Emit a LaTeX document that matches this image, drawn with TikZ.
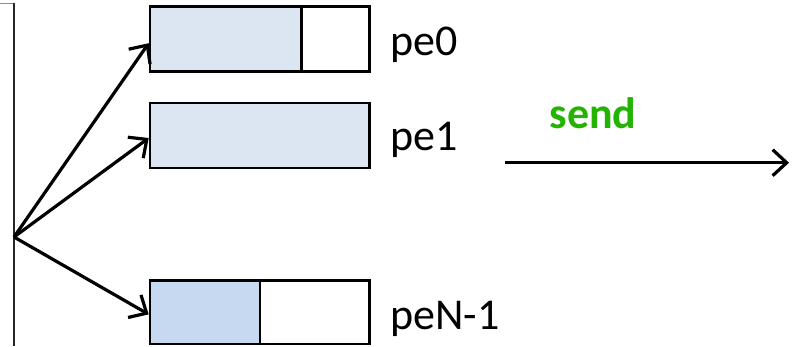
\documentclass[tikz,border=0pt]{standalone}
\usepackage{fontspec}
\setmainfont{Carlito}
\usetikzlibrary{arrows.meta}
\definecolor{lightfill}{RGB}{220,230,242}
\definecolor{midfill}{RGB}{198,217,241}
\definecolor{sendgreen}{RGB}{34,180,0}
\definecolor{edgegray}{RGB}{140,140,140}
\tikzset{
  cell/.style={draw=black, line width=2.6pt, inner sep=0pt, minimum height=65pt},
  conn/.style={line width=3.2pt, -{Straight Barb[length=14pt, width=26pt, line width=3.2pt]}},
  lbl/.style={anchor=base west, inner sep=0pt, font=\fontsize{44}{48}\selectfont},
}
\begin{document}
\begin{tikzpicture}[x=1pt, y=-1pt]
\useasboundingbox (0,0) rectangle (792,346);
% left frame
\draw[edgegray, line width=1.8pt] (0,3.5) -- (14,3.5);
\draw[black!85, line width=1.8pt] (14,3) -- (14,346);
% boxes
\node[cell, fill=lightfill, minimum width=151.7pt] (b0a) at (225.85,39.2) {};
\node[cell, fill=white, minimum width=67.6pt] (b0b) at (335.5,39.2) {};
\node[cell, fill=lightfill, minimum width=219.3pt] (b1) at (259.65,135.5) {};
\node[cell, fill=midfill, minimum width=110pt, minimum height=63.3pt] (bNa) at (205,312.35) {};
\node[cell, fill=white, minimum width=109.3pt, minimum height=63.3pt] (bNb) at (314.65,312.35) {};
% labels
\node[lbl] (l0) at (390,55) {pe0};
\node[lbl] (l1) at (390,150) {pe1};
\node[lbl] (lN) at (390,329.3) {peN-1};
% connectors
\coordinate (o) at (14,237);
\draw[conn] (o) -- ([yshift=-4pt]b0a.west);
\draw[conn] (o) -- ([yshift=-2.5pt]b1.west);
\draw[conn] (o) -- ([yshift=-2pt]bNa.west);
% send
\coordinate (s1) at (505,162.7);
\coordinate (s2) at (789,162.7);
\draw[conn] (s1) -- (s2);
\node[anchor=base, inner sep=0pt, text=sendgreen, font=\fontsize{44}{48}\selectfont\bfseries] (send) at (593,128) {send};
\end{tikzpicture}
\end{document}
